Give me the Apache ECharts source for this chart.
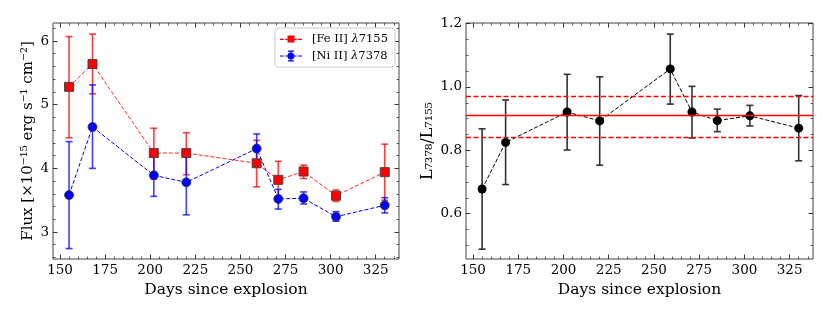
<!DOCTYPE html>
<html><head><meta charset="utf-8">
<script src="https://cdn.jsdelivr.net/npm/echarts@6/dist/echarts.min.js"></script>
<style>html,body{margin:0;padding:0;background:#fff}#c{width:830px;height:312px}</style>
</head><body><div id="c"></div>
<script>
// ---- data ----
const days = [155, 168, 202, 220, 259, 271, 285, 303, 330];
const feFlux = [5.28, 5.64, 4.24, 4.24, 4.08, 3.82, 3.95, 3.57, 3.94];
const feLow  = [4.48, 5.17, 3.83, 3.90, 3.71, 3.53, 3.84, 3.48, 3.50];
const feHigh = [6.07, 6.11, 4.63, 4.56, 4.44, 4.11, 4.05, 3.66, 4.38];
const niFlux = [3.58, 4.65, 3.89, 3.78, 4.31, 3.52, 3.53, 3.24, 3.42];
const niLow  = [2.74, 4.00, 3.56, 3.27, 4.08, 3.36, 3.44, 3.17, 3.30];
const niHigh = [4.42, 5.31, 4.22, 4.28, 4.54, 3.67, 3.63, 3.32, 3.54];
const ratio     = [0.678, 0.825, 0.921, 0.893, 1.057, 0.921, 0.894, 0.909, 0.870];
const ratioLow  = [0.488, 0.692, 0.801, 0.753, 0.946, 0.839, 0.859, 0.877, 0.767];
const ratioHigh = [0.868, 0.959, 1.040, 1.032, 1.167, 1.002, 0.930, 0.942, 0.973];
const ratioMean = [0.907];
const ratioBand = [0.844, 0.970];
const seriesNames = ['[Fe II] λ7155', '[Ni II] λ7378'];
const xTicks = [150, 175, 200, 225, 250, 275, 300, 325];
const fluxTicks = [3, 4, 5, 6];
const ratioTicks = [0.6, 0.8, 1.0, 1.2];

// minor tick positions
function steps(a, b, s) { const r = []; for (let v = a; v <= b + 1e-9; v += s) r.push(+v.toFixed(4)); return r; }
const xMinor = steps(150, 335, 5);
const fluxMinor = steps(2.6, 6.2, 0.2);
const ratioMinor = steps(0.5, 1.2, 0.05);

const SERIF = 'DejaVu Serif';
const TICKC = '#333';
const TICKFS = 13.5;

function xAxes(gi, min, max) {
  const base = { type: 'value', gridIndex: gi, min, max, splitLine: { show: false }, axisLine: { show: false } };
  const major = { inside: true, length: 4.5, customValues: xTicks, lineStyle: { color: TICKC, width: 1 } };
  const minor = { inside: true, length: 2.5, customValues: xMinor, lineStyle: { color: TICKC, width: 0.8 } };
  return [
    Object.assign({}, base, { position: 'bottom', axisTick: major,
      axisLabel: { customValues: xTicks, fontFamily: SERIF, fontSize: TICKFS, color: '#000', margin: 4 },
      name: 'Days since explosion', nameLocation: 'middle', nameGap: 19,
      nameTextStyle: { fontFamily: SERIF, fontSize: 15.5, color: '#000' } }),
    Object.assign({}, base, { position: 'bottom', axisTick: minor, axisLabel: { show: false } }),
    Object.assign({}, base, { position: 'top', axisTick: major, axisLabel: { show: false } }),
    Object.assign({}, base, { position: 'top', axisTick: minor, axisLabel: { show: false } })
  ];
}
function yAxes(gi, min, max, ticks, minorVals, name, nameGap, fs, fmt) {
  const base = { type: 'value', gridIndex: gi, min, max, splitLine: { show: false }, axisLine: { show: false } };
  const major = { inside: true, length: 4.5, customValues: ticks, lineStyle: { color: TICKC, width: 1 } };
  const minor = { inside: true, length: 2.5, customValues: minorVals, lineStyle: { color: TICKC, width: 0.8 } };
  return [
    Object.assign({}, base, { position: 'left', axisTick: major,
      axisLabel: { customValues: ticks, fontFamily: SERIF, fontSize: TICKFS, color: '#000', margin: 4, formatter: fmt },
      name, nameLocation: 'middle', nameGap,
      nameTextStyle: { fontFamily: SERIF, fontSize: fs, color: '#000' } }),
    Object.assign({}, base, { position: 'left', axisTick: minor, axisLabel: { show: false } }),
    Object.assign({}, base, { position: 'right', axisTick: major, axisLabel: { show: false } }),
    Object.assign({}, base, { position: 'right', axisTick: minor, axisLabel: { show: false } })
  ];
}

function errRender(color, width, cap) {
  return function (params, api) {
    const x = api.value(0), lo = api.value(1), hi = api.value(2);
    const a = api.coord([x, hi]), b = api.coord([x, lo]);
    const style = { stroke: color, lineWidth: width };
    return { type: 'group', children: [
      { type: 'line', shape: { x1: a[0], y1: a[1], x2: b[0], y2: b[1] }, style },
      { type: 'line', shape: { x1: a[0] - cap, y1: a[1], x2: a[0] + cap, y2: a[1] }, style },
      { type: 'line', shape: { x1: b[0] - cap, y1: b[1], x2: b[0] + cap, y2: b[1] }, style }
    ] };
  };
}
const pts = (ys) => days.map((d, i) => [d, ys[i]]);
const errs = (lo, hi) => days.map((d, i) => [d, lo[i], hi[i]]);

const RED = '#ff0000', BLUE = '#0000ff';
const feIcon = 'path://M0 3.2h4v1.2h-4z M5.3 3.2h2.2v1.2h-2.2z M7.6 0h7v7h-7z M14.6 3.2h2.2v1.2h-2.2z M18 3.2h4v1.2h-4z';
const niIcon = 'path://M0 4.9h4v1.2h-4z M5.3 4.9h2.2v1.2h-2.2z M14.6 4.9h2.2v1.2h-2.2z M18 4.9h4v1.2h-4z M8 0h6v1.2h-6z M8 9.8h6v1.2h-6z M10.4 0h1.2v11h-1.2z M14.5 5.5A3.5 3.5 0 1 1 7.5 5.5A3.5 3.5 0 1 1 14.5 5.5z';

const chart = echarts.init(document.getElementById('c'), null, { renderer: 'canvas' });
const X0 = 146.1, X1 = 337.9;
chart.setOption({
  animation: false,
  backgroundColor: '#fff',
  grid: [
    { left: 53, top: 23, width: 346, height: 236, show: true, borderColor: '#444', borderWidth: 1 },
    { left: 466, top: 23, width: 347, height: 236, show: true, borderColor: '#444', borderWidth: 1 }
  ],
  legend: {
    orient: 'vertical', right: 435, top: 28, padding: [5, 7, 5, 5], itemGap: 5,
    itemWidth: 22, itemHeight: 11,
    backgroundColor: '#fff', borderColor: '#ccc', borderWidth: 1, borderRadius: 3,
    data: [
      { name: seriesNames[0], icon: feIcon, itemStyle: { color: RED, borderWidth: 0 } },
      { name: seriesNames[1], icon: niIcon, itemStyle: { color: BLUE, borderWidth: 0 } }
    ],
    formatter: (n) => { const p = n.split('λ'); return '{t|' + p[0] + '}{l|λ}{t|' + p[1] + '}'; },
    textStyle: { fontFamily: SERIF, fontSize: 11.5, color: '#000', padding: [0, 0, 0, 5],
      rich: { t: { fontFamily: SERIF, fontSize: 11.5, color: '#000' },
              l: { fontFamily: SERIF, fontStyle: 'italic', fontSize: 11.5, color: '#000' } } }
  },
  xAxis: [].concat(xAxes(0, X0, X1), xAxes(1, X0, X1)),
  yAxis: [].concat(
    yAxes(0, 2.576, 6.283, fluxTicks, fluxMinor,
      'Flux [×10⁻¹⁵ erg s⁻¹ cm⁻²]', 17.5, 15, (v) => String(v)),
    yAxes(1, 0.457, 1.202, ratioTicks, ratioMinor,
      'L₇₃₇₈/L₇₁₅₅', 30, 16, (v) => v.toFixed(1))
  ),
  series: [
    { type: 'custom', xAxisIndex: 0, yAxisIndex: 0, renderItem: errRender('rgba(255,0,0,0.75)', 1.6, 3.5),
      data: errs(feLow, feHigh), encode: { x: 0, y: [1, 2] }, z: 2, silent: true },
    { type: 'custom', xAxisIndex: 0, yAxisIndex: 0, renderItem: errRender('rgba(0,0,255,0.75)', 1.6, 3.5),
      data: errs(niLow, niHigh), encode: { x: 0, y: [1, 2] }, z: 2, silent: true },
    { name: seriesNames[0], type: 'line', xAxisIndex: 0, yAxisIndex: 0, data: pts(feFlux),
      symbol: 'rect', symbolSize: 9, z: 4,
      itemStyle: { color: RED, borderColor: '#444', borderWidth: 1 },
      lineStyle: { color: 'rgba(255,0,0,0.85)', width: 1, type: [4, 2] } },
    { name: seriesNames[1], type: 'line', xAxisIndex: 0, yAxisIndex: 0, data: pts(niFlux),
      symbol: 'circle', symbolSize: 9, z: 3,
      itemStyle: { color: BLUE, borderColor: '#333', borderWidth: 0.8 },
      lineStyle: { color: BLUE, width: 1, type: [4, 2] } },

    { type: 'line', xAxisIndex: 4, yAxisIndex: 4, data: [], z: 1,
      markLine: { silent: true, symbol: 'none', label: { show: false }, animation: false,
        data: [
          { yAxis: ratioMean[0], lineStyle: { color: RED, width: 1.3, type: 'solid' } },
          { yAxis: ratioBand[0], lineStyle: { color: RED, width: 1.3, type: [5, 2.5] } },
          { yAxis: ratioBand[1], lineStyle: { color: RED, width: 1.3, type: [5, 2.5] } }
        ] } },
    { type: 'custom', xAxisIndex: 4, yAxisIndex: 4, renderItem: errRender('#333', 1.6, 3.5),
      data: errs(ratioLow, ratioHigh), encode: { x: 0, y: [1, 2] }, z: 2, silent: true },
    { type: 'line', xAxisIndex: 4, yAxisIndex: 4, data: pts(ratio),
      symbol: 'circle', symbolSize: 9, z: 3,
      itemStyle: { color: '#000' },
      lineStyle: { color: '#000', width: 1, type: [4, 2] } }
  ]
});
</script></body></html>
